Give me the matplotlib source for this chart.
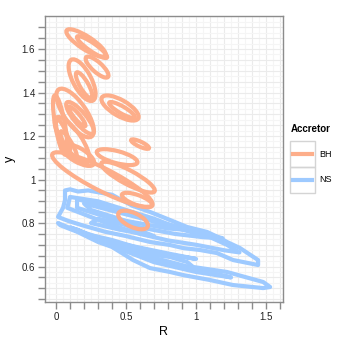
import numpy as np
import matplotlib.pyplot as plt
from matplotlib.patches import Ellipse, Polygon, Rectangle
from matplotlib.lines import Line2D
from matplotlib.transforms import Affine2D

plt.rcParams['font.family'] = ['Liberation Sans', 'DejaVu Sans']

bh_col = '#FDAE8A'
ns_col = '#9ECAFF'

# BH contours, read as ellipses: centre (R, y), length / thickness in R units, tilt (deg on screen)
bh_r = [0.214, 0.257, 0.293, 0.186, 0.200, 0.457, 0.471, 0.600, 0.136, 0.171, 0.150, 0.114,
        0.029, 0.436, 0.157, 0.514, 0.579, 0.550, 0.330, 0.050, 0.090]
bh_y = [1.628, 1.609, 1.517, 1.457, 1.434, 1.329, 1.320, 1.163, 1.306, 1.283, 1.290, 1.182,
        1.251, 1.103, 1.113, 1.011, 0.906, 0.814, 1.000, 1.200, 1.160]
bh_len = [0.33, 0.26, 0.21, 0.33, 0.21, 0.30, 0.21, 0.14, 0.41, 0.29, 0.18, 0.39,
          0.43, 0.30, 0.26, 0.43, 0.23, 0.23, 0.80, 0.25, 0.22]
bh_thick = [0.093, 0.057, 0.071, 0.13, 0.06, 0.114, 0.05, 0.036, 0.157, 0.086, 0.04, 0.13,
            0.07, 0.086, 0.10, 0.10, 0.071, 0.10, 0.16, 0.06, 0.05]
bh_ang = [-33, -35, -42, -62, -60, -30, -30, -25, -55, -50, -50, -55,
          -80, -15, -30, -28, -20, -25, -27, -70, -60]

# NS contours, read as closed polygons (R, y)
ns_r = [
    [0.014, 0.05, 0.064, 0.064, 0.10, 0.157, 0.229, 0.40, 0.543, 0.671, 0.814, 0.936, 1.079, 1.171,
     1.221, 1.314, 1.443, 1.443, 1.264, 1.15, 1.029, 0.907, 0.814, 0.671, 0.50, 0.35, 0.186, 0.086],
    [0.014, 0.186, 0.40, 0.564, 0.707, 0.814, 0.936, 0.979, 1.221, 1.479, 1.529,
     1.479, 1.264, 1.10, 0.907, 0.814, 0.671, 0.55, 0.40, 0.30, 0.15, 0.03],
    [0.10, 0.30, 0.50, 0.70, 0.90, 1.10, 1.22, 1.31, 1.20, 1.00, 0.80, 0.60, 0.40, 0.20, 0.08],
    [0.15, 0.40, 0.70, 0.95, 1.19, 1.05, 0.85, 0.60, 0.35, 0.15],
    [0.20, 0.50, 0.80, 1.00, 0.80, 0.50, 0.25],
    [0.25, 0.45, 0.70, 0.50, 0.30],
    [0.10, 0.40, 0.70, 1.00, 1.25, 1.00, 0.70, 0.40, 0.15],
    [0.50, 0.80, 1.00, 0.80, 0.55],
]
ns_y = [
    [0.828, 0.87, 0.906, 0.950, 0.955, 0.945, 0.950, 0.930, 0.880, 0.851, 0.814, 0.782, 0.759, 0.731,
     0.713, 0.685, 0.63, 0.607, 0.63, 0.662, 0.676, 0.685, 0.699, 0.713, 0.74, 0.76, 0.79, 0.81],
    [0.800, 0.754, 0.722, 0.69, 0.653, 0.644, 0.621, 0.598, 0.575, 0.529, 0.506,
     0.501, 0.515, 0.538, 0.561, 0.575, 0.593, 0.63, 0.69, 0.713, 0.76, 0.79],
    [0.92, 0.90, 0.86, 0.82, 0.77, 0.735, 0.70, 0.665, 0.675, 0.70, 0.72, 0.75, 0.79, 0.84, 0.87],
    [0.91, 0.87, 0.81, 0.77, 0.73, 0.735, 0.75, 0.78, 0.83, 0.87],
    [0.89, 0.84, 0.79, 0.765, 0.775, 0.81, 0.86],
    [0.80, 0.77, 0.74, 0.79, 0.82],
    [0.78, 0.71, 0.64, 0.59, 0.55, 0.575, 0.62, 0.695, 0.77],
    [0.70, 0.66, 0.635, 0.655, 0.69],
]

x_labels = ['0', '0.5', '1', '1.5']
y_labels = ['0.6', '0.8', '1', '1.2', '1.4', '1.6']

W, H = 341, 341
fig = plt.figure(figsize=(W / 100, H / 100), dpi=100)
ax = fig.add_axes([45 / W, 1 - 302 / H, 238 / W, 286 / H])
xlim = (-0.079, 1.621)
ylim = (0.437, 1.752)
ax.set_xlim(xlim)
ax.set_ylim(ylim)

# grid
for v in np.arange(-0.05, 1.65, 0.05):
    ax.axvline(v, color='#ebebeb' if abs(v * 10 - round(v * 10)) < 1e-6 else '#f5f5f5', lw=0.8, zorder=0)
for v in np.arange(0.45, 1.76, 0.025):
    ax.axhline(v, color='#ebebeb' if abs(v * 20 - round(v * 20)) < 1e-6 else '#f5f5f5', lw=0.8, zorder=0)

lw = 3.0
for rr, yy in zip(ns_r, ns_y):
    ax.add_patch(Polygon(np.column_stack([rr, yy]), closed=True, fill=False,
                         edgecolor=ns_col, lw=lw, joinstyle='round', zorder=2))

# ellipses drawn in a frame where y is rescaled so that tilt and lengths are on-screen ones
k = (286 / (ylim[1] - ylim[0])) / (238 / (xlim[1] - xlim[0]))
tr = Affine2D().scale(1, 1 / k) + ax.transData
for r, y, l, t, a in zip(bh_r, bh_y, bh_len, bh_thick, bh_ang):
    ax.add_patch(Ellipse((r, y * k), l, t, angle=a, fill=False, edgecolor=bh_col,
                         lw=lw, transform=tr, zorder=3))

for s in ax.spines.values():
    s.set_color('#8c8c8c')
    s.set_linewidth(1.0)

ax.set_xticks(np.arange(0, 1.61, 0.1))
ax.set_xticklabels([x_labels[int(round(v * 2))] if abs(v * 2 - round(v * 2)) < 1e-6 else ''
                    for v in np.arange(0, 1.61, 0.1)])
yt = np.arange(0.45, 1.71, 0.05)
ax.set_yticks(yt)
ax.set_yticklabels([y_labels[int(round((v - 0.6) * 5))] if abs(v * 5 - round(v * 5)) < 1e-6 else ''
                    for v in yt])
ax.tick_params(direction='out', length=5, width=1.0, color='#8c8c8c',
               labelsize=7, labelcolor='#222222', pad=2)
ax.set_xlabel('R', fontsize=9, labelpad=3)
ax.set_ylabel('y', fontsize=9, labelpad=4)

# legend
fig.text(291 / W, 1 - 132 / H, 'Accretor', fontsize=7, fontweight='bold', va='baseline')
for i, (lab, col) in enumerate([('BH', bh_col), ('NS', ns_col)]):
    top = 141 + i * 26
    fig.add_artist(Rectangle((290 / W, 1 - (top + 26) / H), 25 / W, 26 / H,
                             transform=fig.transFigure, fill=False, edgecolor='#d4d4d4', lw=1))
    fig.add_artist(Line2D([293 / W, 312 / W], [1 - (top + 13) / H] * 2,
                          transform=fig.transFigure, color=col, lw=lw))
    fig.text(319 / W, 1 - (top + 13) / H, lab, fontsize=6.5, va='center')

fig.savefig('out.png', dpi=100)
